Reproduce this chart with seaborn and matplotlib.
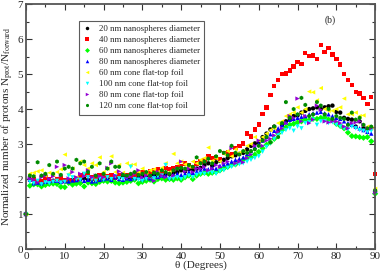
import numpy as np
import pandas as pd
import seaborn as sns
import matplotlib
matplotlib.use('Agg')
import matplotlib.pyplot as plt
from matplotlib.lines import Line2D

# Data (theta in degrees, normalized proton number)
theta = list(range(91))

nano20 = [1.0,
    2.0, 1.98, 1.92, 1.88, 2.02, 1.97, 1.95, 2.0, 1.96, 1.93,
    1.95, 1.97, 1.92, 2.0, 2.02, 1.98, 2.0, 1.97, 2.0, 2.02,
    2.05, 2.03, 2.07, 2.05, 2.08, 2.02, 2.03, 2.05, 2.06, 2.08,
    2.05, 2.1, 2.12, 2.08, 2.1, 2.15, 2.14, 2.18, 2.2, 2.25,
    2.22, 2.28, 2.25, 2.3, 2.32, 2.4, 2.45, 2.38, 2.48, 2.52,
    2.55, 2.6, 2.65, 2.68, 2.72, 2.75, 2.85, 2.95, 3.02, 3.05,
    3.2, 3.3, 3.42, 3.5, 3.38, 3.55, 3.65, 3.7, 3.8, 3.82,
    3.9, 3.95, 4.0, 4.02, 4.05, 4.0, 4.05, 4.08, 4.1, 3.92,
    3.9, 3.75, 3.72, 3.7, 3.5, 3.65, 3.45, 3.42, 3.45, 1.65]

nano40 = [1.0,
    1.98, 2.0, 1.9, 1.95, 2.05, 2.0, 1.95, 2.0, 2.02, 1.98,
    1.96, 1.95, 2.02, 2.1, 2.15, 2.12, 2.05, 2.0, 2.12, 2.05,
    2.08, 2.1, 2.05, 2.12, 2.15, 2.1, 2.08, 2.12, 2.15, 2.2,
    2.15, 2.22, 2.25, 2.28, 2.2, 2.32, 2.28, 2.3, 2.35, 2.38,
    2.45, 2.4, 2.35, 2.45, 2.5, 2.55, 2.65, 2.6, 2.62, 2.58,
    2.75, 2.78, 2.7, 2.88, 2.95, 3.02, 3.3, 3.22, 3.42, 3.56,
    3.86, 4.04, 4.4, 4.66, 4.84, 5.0, 5.02, 5.1, 5.22, 5.35,
    5.29, 5.61, 5.51, 5.53, 5.44, 5.84, 5.63, 5.74, 5.56, 5.43,
    5.27, 5.0, 4.83, 4.68, 4.49, 4.45, 4.32, 4.14, 4.35, 2.15]

nano60 = [1.0,
    1.81, 1.85, 1.85, 1.79, 1.83, 1.86, 1.87, 1.86, 1.78, 1.77,
    1.89, 1.84, 1.87, 1.88, 1.79, 1.9, 1.88, 1.86, 1.92, 1.95,
    1.93, 1.95, 1.9, 1.88, 1.9, 1.92, 1.95, 1.98, 1.88, 1.92,
    1.95, 1.98, 1.93, 2.0, 2.02, 1.98, 2.0, 1.98, 2.02, 1.98,
    2.05, 2.1, 2.0, 2.1, 2.15, 2.18, 2.15, 2.18, 2.2, 2.25,
    2.3, 2.35, 2.4, 2.42, 2.48, 2.55, 2.6, 2.62, 2.7, 2.78,
    2.88, 2.98, 3.05, 3.15, 3.3, 3.4, 3.48, 3.55, 3.58, 3.62,
    3.65, 3.7, 3.68, 3.72, 3.72, 3.75, 3.76, 3.7, 3.68, 3.58,
    3.52, 3.45, 3.33, 3.23, 3.22, 3.2, 3.18, 3.2, 3.08, 1.58]

nano80 = [1.0,
    1.98, 1.88, 1.9, 1.88, 1.92, 1.94, 1.96, 1.95, 1.92, 1.95,
    1.93, 1.96, 1.97, 2.0, 1.95, 1.98, 1.93, 1.94, 1.98, 2.0,
    2.02, 1.98, 2.05, 2.0, 1.98, 2.02, 2.0, 2.03, 2.05, 2.0,
    2.05, 2.02, 2.08, 2.06, 2.1, 2.1, 2.05, 2.12, 2.15, 2.12,
    2.15, 2.2, 2.18, 2.22, 2.25, 2.3, 2.28, 2.32, 2.3, 2.38,
    2.42, 2.45, 2.5, 2.55, 2.58, 2.62, 2.72, 2.8, 2.92, 3.0,
    3.1, 3.2, 3.28, 3.38, 3.45, 3.55, 3.62, 3.7, 3.72, 3.75,
    3.78, 3.8, 3.85, 3.88, 3.9, 3.92, 3.88, 3.85, 3.8, 3.75,
    3.72, 3.65, 3.6, 3.55, 3.5, 3.45, 3.4, 3.35, 3.3, 1.66]

cone60 = [1.0,
    2.15, 2.18, 2.22, 2.25, 2.1, 2.18, 2.12, 2.2, 2.28, 2.7,
    2.15, 2.3, 2.05, 2.5, 2.4, 2.3, 2.45, 2.4, 2.62, 2.2,
    2.3, 2.65, 2.2, 2.4, 2.18, 2.45, 2.4, 2.42, 2.2, 2.3,
    2.18, 2.25, 2.28, 2.2, 2.32, 2.45, 2.2, 2.72, 2.45, 2.5,
    2.42, 2.35, 2.5, 2.45, 2.55, 2.6, 2.9, 2.52, 2.6, 2.5,
    2.72, 2.8, 2.65, 2.85, 2.75, 2.8, 2.95, 3.0, 3.2, 3.1,
    3.2, 3.3, 3.4, 3.45, 3.6, 3.65, 3.8, 3.85, 3.9, 4.05,
    3.9, 4.0, 4.5, 4.48, 4.25, 4.6, 4.0, 3.95, 3.95, 4.0,
    4.05, 4.3, 3.85, 3.85, 3.9, 3.8, 3.82, 3.5, 3.45, 1.72]

cone100 = [1.0,
    1.92, 1.88, 1.95, 1.85, 1.9, 1.88, 1.92, 1.95, 1.9, 1.92,
    2.1, 2.05, 2.0, 1.98, 2.15, 2.05, 2.0, 1.95, 2.02, 1.98,
    2.05, 2.0, 2.08, 2.02, 2.0, 2.05, 2.35, 2.0, 1.98, 1.95,
    2.0, 2.05, 2.02, 2.08, 2.1, 2.4, 2.0, 2.02, 2.05, 2.0,
    2.05, 2.1, 2.05, 2.12, 2.15, 2.15, 2.2, 2.18, 2.15, 2.22,
    2.25, 2.32, 2.35, 2.4, 2.42, 2.45, 2.5, 2.55, 2.6, 2.65,
    2.78, 2.92, 3.02, 3.15, 3.25, 3.32, 3.4, 3.45, 3.38, 3.5,
    3.45, 3.6, 3.62, 3.7, 3.55, 3.65, 3.65, 3.6, 3.62, 3.55,
    3.5, 3.45, 3.42, 3.5, 3.45, 3.4, 3.38, 3.35, 3.38, 1.62]

cone80 = [1.0,
    2.02, 1.98, 1.9, 2.05, 2.1, 2.0, 2.08, 2.35, 2.1, 2.4,
    2.02, 2.2, 2.05, 2.15, 2.08, 2.25, 2.05, 2.1, 2.08, 2.05,
    2.32, 2.45, 2.1, 2.22, 2.15, 2.05, 2.08, 2.15, 2.25, 2.05,
    2.1, 2.05, 1.95, 2.2, 2.1, 2.05, 2.15, 2.1, 2.3, 2.5,
    2.22, 2.3, 2.2, 2.3, 2.3, 2.35, 2.25, 2.3, 2.4, 2.35,
    2.45, 2.5, 2.88, 2.45, 2.5, 2.48, 2.6, 2.7, 2.95, 3.1,
    2.95, 3.1, 3.15, 3.25, 3.35, 3.45, 3.6, 3.8, 3.75, 4.3,
    3.65, 3.8, 3.6, 3.7, 4.1, 3.98, 3.65, 3.62, 3.65, 3.65,
    3.6, 3.5, 3.45, 3.6, 3.62, 3.65, 3.55, 3.45, 3.45, 1.62]

cone120 = [1.0,
    2.1, 2.08, 2.48, 2.1, 2.15, 2.4, 2.15, 2.5, 2.12, 2.3,
    2.35, 2.3, 2.55, 2.45, 2.5, 2.2, 2.35, 2.1, 2.45, 2.15,
    2.3, 2.5, 2.35, 2.35, 2.12, 2.1, 2.15, 2.2, 2.12, 2.15,
    2.2, 2.1, 2.18, 2.15, 2.25, 2.2, 2.15, 2.25, 2.3, 2.32,
    2.3, 2.4, 2.35, 2.62, 2.45, 2.5, 2.58, 2.45, 2.65, 2.8,
    2.75, 2.68, 2.95, 2.75, 2.7, 2.8, 2.75, 2.8, 2.85, 2.95,
    3.1, 3.2, 3.05, 3.5, 3.2, 3.6, 4.2, 3.75, 4.0, 3.85,
    4.32, 4.12, 3.8, 3.85, 4.2, 4.1, 3.85, 4.0, 3.72, 3.8,
    3.75, 3.72, 3.55, 3.9, 3.7, 3.75, 3.55, 3.45, 3.5, 1.68]

labels = ['20 nm nanospheres diameter', '40 nm nanospheres diameter',
          '60 nm nanospheres diameter', '80 nm nanospheres diameter',
          '60 nm cone flat-top foil', '100 nm cone flat-top foil',
          '80 nm cone flat-top foil', '120 nm cone flat-top foil']
series = [nano20, nano40, nano60, nano80, cone60, cone100, cone80, cone120]
colors = ['#000000', '#ff0000', '#00ff00', '#0000ff',
          '#ffff00', '#00ffff', '#9400d3', '#008b00']
markers = ['o', 's', 'D', '^', '<', 'v', '>', 'h']

# long form table for seaborn
df = pd.concat([pd.DataFrame({'theta': theta, 'ratio': vals, 'series': lab})
                for lab, vals in zip(labels, series)], ignore_index=True)

sns.set_style('ticks')
plt.rcParams['font.family'] = ['Liberation Serif', 'DejaVu Serif']
plt.rcParams['mathtext.fontset'] = 'stix'

fig = plt.figure(figsize=(3.82, 2.74), dpi=100)
ax = fig.add_axes([0.068, 0.091, 0.914, 0.894])

sns.scatterplot(data=df, x='theta', y='ratio', hue='series', style='series',
                palette=dict(zip(labels, colors)), markers=dict(zip(labels, markers)),
                hue_order=labels, style_order=labels,
                s=10, linewidth=0, clip_on=False, legend=False, ax=ax)

ax.set_xlim(0, 90)
ax.set_ylim(0, 7)
ax.set_xticks(range(0, 91, 10))
ax.set_xticks(range(5, 90, 10), minor=True)
ax.set_yticks(range(0, 8))
ax.set_yticks(np.arange(0.5, 7, 1.0), minor=True)
ax.tick_params(which='both', direction='in', top=True, right=True,
               labelsize=8, pad=2, color='#333333')
ax.tick_params(which='major', length=4, width=0.8)
ax.tick_params(which='minor', length=2, width=0.8)
for sp in ax.spines.values():
    sp.set_linewidth(1.3)
    sp.set_color('#555555')

ax.set_xlabel('\u03b8 (Degrees)', fontsize=8, labelpad=0)
ax.set_ylabel(r'Normalized number of protons N$_{\rm prot}$/N$_{\rm forward}$',
              fontsize=8, labelpad=1)
ax.text(78.4, 6.54, '(b)', fontsize=7, ha='center', va='center')

# legend box
handles = [Line2D([], [], linestyle='none', marker=m, color=c, markersize=2.5,
                  markeredgewidth=0) for m, c in zip(markers, colors)]
leg = ax.legend(handles, labels, loc='upper left', bbox_to_anchor=(0.151, 0.932),
                fontsize=6.3, frameon=True, fancybox=False, handlelength=1.0,
                handletextpad=0.8, labelspacing=0.33, borderpad=0.5,
                borderaxespad=0)
leg.get_frame().set_edgecolor('#333333')
leg.get_frame().set_linewidth(0.8)

fig.savefig('out.png', dpi=100)
